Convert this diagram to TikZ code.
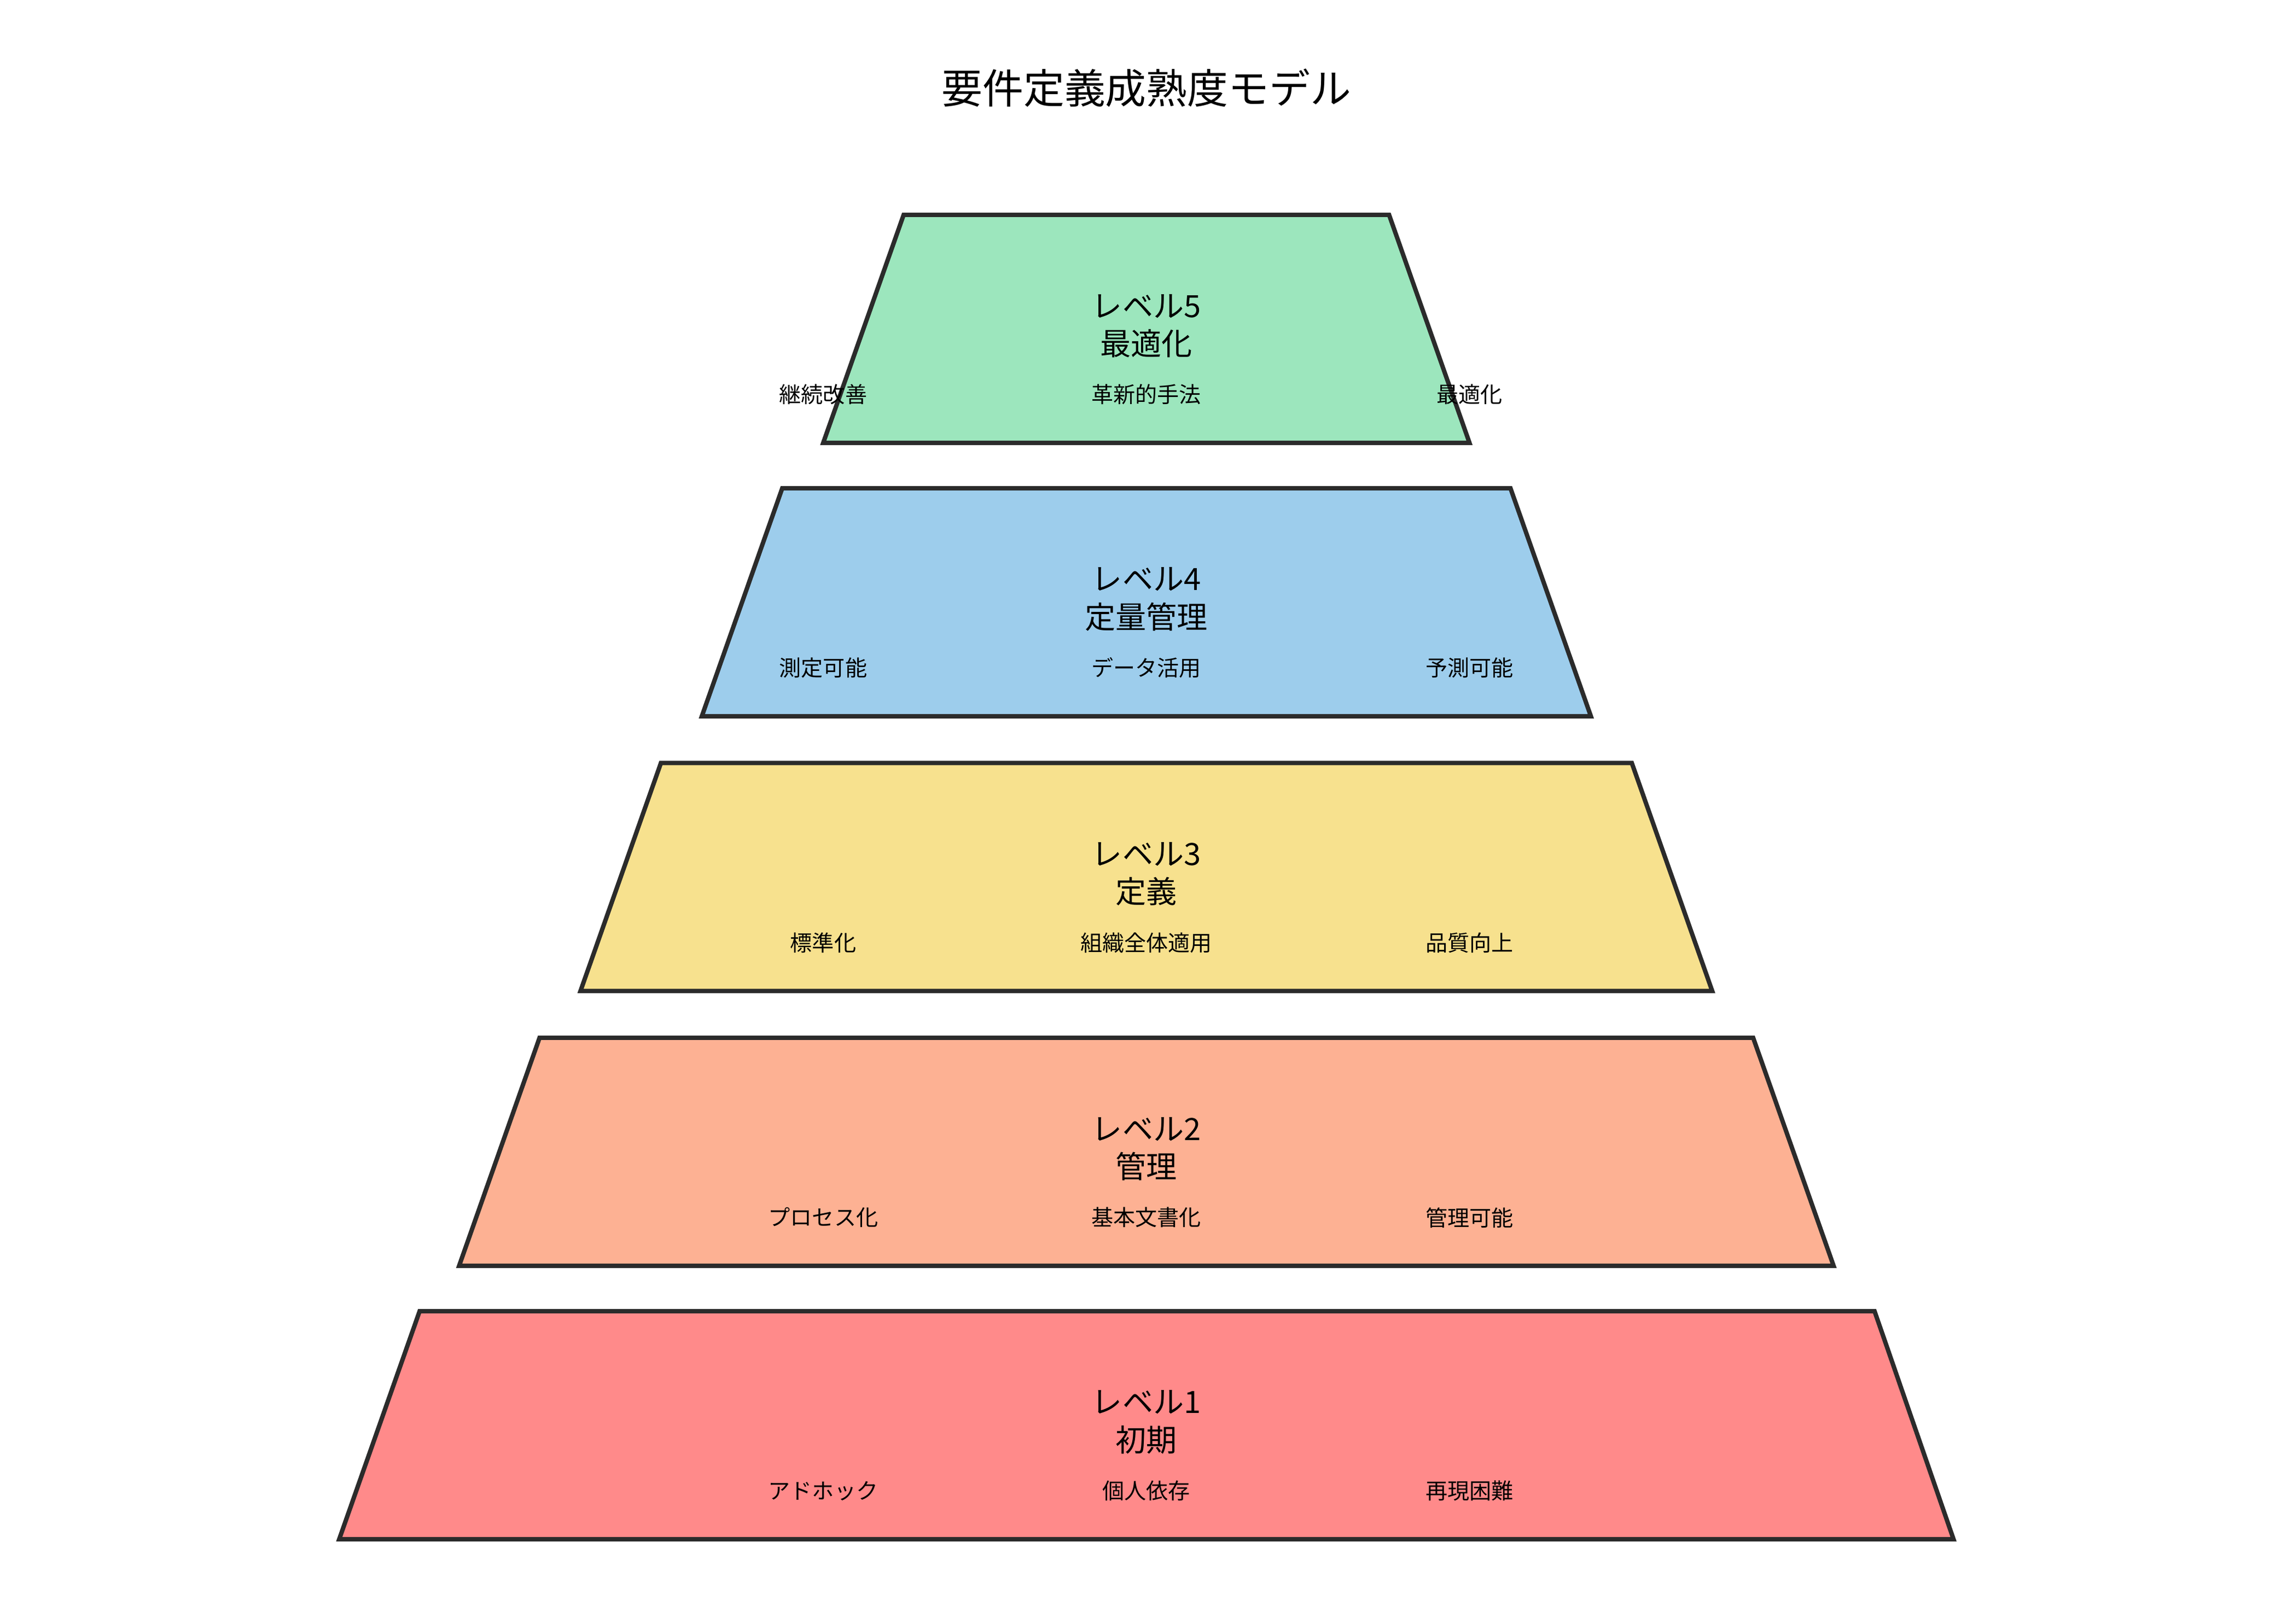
\documentclass[tikz,border=0pt]{standalone}
\usepackage{fontspec}
\setmainfont{Noto Sans CJK JP}
\usepackage{tikz}
\definecolor{lvlone}{HTML}{FF8A8A}
\definecolor{lvltwo}{HTML}{FDB193}
\definecolor{lvlthree}{HTML}{F7E18E}
\definecolor{lvlfour}{HTML}{9DCDEC}
\definecolor{lvlfive}{HTML}{9CE6BD}
\definecolor{edgegray}{HTML}{2B2B2B}
\tikzset{
  level/.style={draw=edgegray, line width=3pt},
  lbl/.style={align=center, font=\fontsize{21}{26}\selectfont},
  item/.style={font=\fontsize{15}{18}\selectfont, inner sep=0pt},
  heading/.style={font=\fontsize{28}{34}\selectfont}
}

\begin{document}
\begin{tikzpicture}[x=1pt, y=1pt]
  \useasboundingbox (0,0) rectangle (1560,-1111);
  \node[heading] (title) at (784,-60) {要件定義成熟度モデル};

  % pyramid, top to bottom
  \filldraw[level, fill=lvlfive] (618,-147) -- (950,-147) -- (1005,-303) -- (563,-303) -- cycle;
  \filldraw[level, fill=lvlfour] (535,-334) -- (1033,-334) -- (1088,-490) -- (480,-490) -- cycle;
  \filldraw[level, fill=lvlthree] (452,-522) -- (1116,-522) -- (1171,-678) -- (397,-678) -- cycle;
  \filldraw[level, fill=lvltwo] (369,-710) -- (1199,-710) -- (1254,-866) -- (314,-866) -- cycle;
  \filldraw[level, fill=lvlone] (287,-897) -- (1282,-897) -- (1336,-1053) -- (232,-1053) -- cycle;

  \node[lbl] (lbl5) at (784,-223) {レベル5\\最適化};
  \node[item] (l5left) at (563,-270) {継続改善};
  \node[item] (l5mid) at (784,-270) {革新的手法};
  \node[item] (l5right) at (1005,-270) {最適化};

  \node[lbl] (lbl4) at (784,-410) {レベル4\\定量管理};
  \node[item] (l4left) at (563,-457) {測定可能};
  \node[item] (l4mid) at (784,-457) {データ活用};
  \node[item] (l4right) at (1005,-457) {予測可能};

  \node[lbl] (lbl3) at (784,-598) {レベル3\\定義};
  \node[item] (l3left) at (563,-645) {標準化};
  \node[item] (l3mid) at (784,-645) {組織全体適用};
  \node[item] (l3right) at (1005,-645) {品質向上};

  \node[lbl] (lbl2) at (784,-786) {レベル2\\管理};
  \node[item] (l2left) at (563,-833) {プロセス化};
  \node[item] (l2mid) at (784,-833) {基本文書化};
  \node[item] (l2right) at (1005,-833) {管理可能};

  \node[lbl] (lbl1) at (784,-973) {レベル1\\初期};
  \node[item] (l1left) at (563,-1020) {アドホック};
  \node[item] (l1mid) at (784,-1020) {個人依存};
  \node[item] (l1right) at (1005,-1020) {再現困難};
\end{tikzpicture}
\end{document}
